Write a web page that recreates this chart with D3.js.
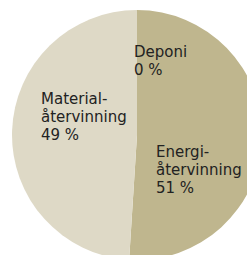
<!DOCTYPE html>
<html>
<head>
<meta charset="utf-8">
<script src="https://cdn.jsdelivr.net/npm/d3@7"></script>
<style>
  body { margin: 0; background: #fff; }
  .slice-label { font-family: "DejaVu Sans", sans-serif; font-size: 15px; fill: #222; }
</style>
</head>
<body>
<div id="chart"></div>
<script>
    // slice order: clockwise from 12 o'clock
    var categories = ["Energiåtervinning", "Materialåtervinning", "Deponi"];
    var values = [51, 49, 0];
    var labelLines = [
        ["Energi-", "återvinning", "51 %"],
        ["Material-", "återvinning", "49 %"],
        ["Deponi", "0 %"]
    ];

    var width = 247;
    var height = 255;
    var radius = 125;
    var cx = 137;
    var cy = 135;
    var lineHeight = 18;
    var colors = ["#bfb68e", "#ded9c6", "#a89f78"];

    // label anchor offsets from the pie centre (left edge, first baseline)
    var labelOffsets = [[19, 22], [-96, -31], [-3, -78]];

    var svg = d3.select("#chart").append("svg")
        .attr("width", width)
        .attr("height", height);

    var g = svg.append("g")
        .attr("transform", "translate(" + cx + "," + cy + ")");

    var pie = d3.pie().sort(null).value(function(d) { return d; });
    var arc = d3.arc().innerRadius(0).outerRadius(radius);

    var arcs = pie(values);

    g.selectAll(".slice")
        .data(arcs)
        .enter()
        .append("path")
        .attr("class", "slice")
        .attr("d", arc)
        .attr("fill", function(d, i) { return colors[i]; });

    var labels = g.selectAll(".slice-label")
        .data(categories)
        .enter()
        .append("text")
        .attr("class", "slice-label")
        .attr("x", function(d, i) { return labelOffsets[i][0]; })
        .attr("y", function(d, i) { return labelOffsets[i][1]; });

    labels.selectAll("tspan")
        .data(function(d, i) { return labelLines[i]; })
        .enter()
        .append("tspan")
        .attr("x", function() { return d3.select(this.parentNode).attr("x"); })
        .attr("dy", function(d, j) { return j === 0 ? 0 : lineHeight; })
        .text(function(d) { return d; });
</script>
</body>
</html>
